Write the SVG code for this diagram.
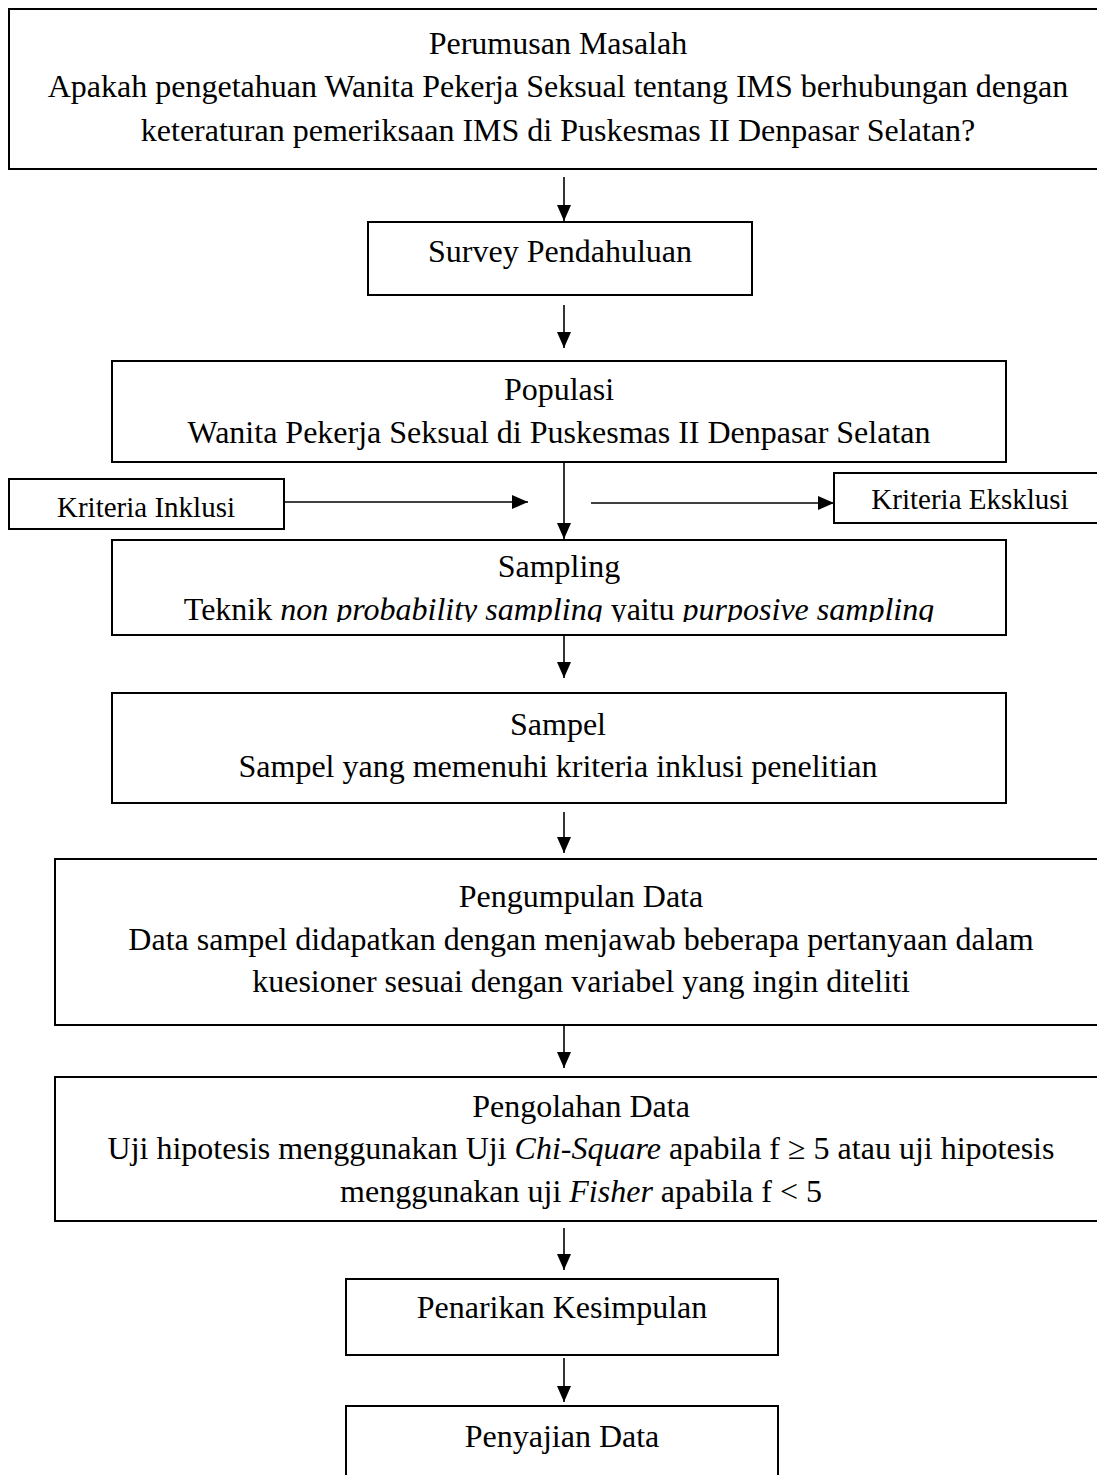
<svg xmlns="http://www.w3.org/2000/svg" width="1097" height="1475" viewBox="0 0 1097 1475">
<style>
.box{fill:#fff;stroke:#000;stroke-width:2}
.t{font-family:"Liberation Serif","Times New Roman",serif;font-size:32px;fill:#000;text-anchor:middle}
.s{font-size:29px}
.i{font-style:italic}
.c{stroke:#000;stroke-width:1.6;fill:none;marker-end:url(#ah)}
</style>
<defs>
<marker id="ah" markerUnits="userSpaceOnUse" markerWidth="17" markerHeight="15" refX="16" refY="7" orient="auto">
<path d="M0,0 L16,7 L0,14 z" fill="#000"/>
</marker>
<clipPath id="clipS"><rect x="112" y="540" width="894" height="82"/></clipPath>
</defs>
<rect width="1097" height="1475" fill="#fff"/>
<g id="connectors">
<line class="c" x1="564" y1="177" x2="564" y2="221"/>
<line class="c" x1="564" y1="305" x2="564" y2="348"/>
<line class="c" x1="564" y1="462" x2="564" y2="539"/>
<line class="c" x1="285" y1="502" x2="528" y2="502"/>
<line class="c" x1="591" y1="503" x2="834" y2="503"/>
<line class="c" x1="564" y1="635" x2="564" y2="678"/>
<line class="c" x1="564" y1="812" x2="564" y2="853"/>
<line class="c" x1="564" y1="1025" x2="564" y2="1068"/>
<line class="c" x1="564" y1="1228" x2="564" y2="1270"/>
<line class="c" x1="564" y1="1358" x2="564" y2="1402"/>
</g>
<g id="perumusan">
<rect class="box" x="9" y="9" width="1100" height="160"/>
<text class="t" x="558" y="54">Perumusan Masalah</text>
<text class="t" x="558" y="97">Apakah pengetahuan Wanita Pekerja Seksual tentang IMS berhubungan dengan</text>
<text class="t" x="558" y="141">keteraturan pemeriksaan IMS di Puskesmas II Denpasar Selatan?</text>
</g>
<g id="survey">
<rect class="box" x="368" y="222" width="384" height="73"/>
<text class="t" x="560" y="262">Survey Pendahuluan</text>
</g>
<g id="populasi">
<rect class="box" x="112" y="361" width="894" height="101"/>
<text class="t" x="559" y="400">Populasi</text>
<text class="t" x="559" y="443">Wanita Pekerja Seksual di Puskesmas II Denpasar Selatan</text>
</g>
<g id="inklusi">
<rect class="box" x="9" y="479" width="275" height="50"/>
<text class="t s" x="146" y="517">Kriteria Inklusi</text>
</g>
<g id="eksklusi">
<rect class="box" x="834" y="473" width="272" height="50"/>
<text class="t s" x="970" y="509">Kriteria Eksklusi</text>
</g>
<g id="sampling">
<rect class="box" x="112" y="540" width="894" height="95"/>
<text class="t" x="559" y="577">Sampling</text>
<text class="t" x="559" y="620" clip-path="url(#clipS)">Teknik <tspan class="i">non probability sampling</tspan> yaitu <tspan class="i">purposive sampling</tspan></text>
</g>
<g id="sampel">
<rect class="box" x="112" y="693" width="894" height="110"/>
<text class="t" x="558" y="735">Sampel</text>
<text class="t" x="558" y="777">Sampel yang memenuhi kriteria inklusi penelitian</text>
</g>
<g id="pengumpulan">
<rect class="box" x="55" y="859" width="1051" height="166"/>
<text class="t" x="581" y="907">Pengumpulan Data</text>
<text class="t" x="581" y="950">Data sampel didapatkan dengan menjawab beberapa pertanyaan dalam</text>
<text class="t" x="581" y="992">kuesioner sesuai dengan variabel yang ingin diteliti</text>
</g>
<g id="pengolahan">
<rect class="box" x="55" y="1077" width="1051" height="144"/>
<text class="t" x="581" y="1117">Pengolahan Data</text>
<text class="t" x="581" y="1159">Uji hipotesis menggunakan Uji <tspan class="i">Chi-Square</tspan> apabila f ≥ 5 atau uji hipotesis</text>
<text class="t" x="581" y="1202">menggunakan uji <tspan class="i">Fisher</tspan> apabila f &lt; 5</text>
</g>
<g id="penarikan">
<rect class="box" x="346" y="1279" width="432" height="76"/>
<text class="t" x="562" y="1318">Penarikan Kesimpulan</text>
</g>
<g id="penyajian">
<rect class="box" x="346" y="1406" width="432" height="80"/>
<text class="t" x="562" y="1447">Penyajian Data</text>
</g>
</svg>
